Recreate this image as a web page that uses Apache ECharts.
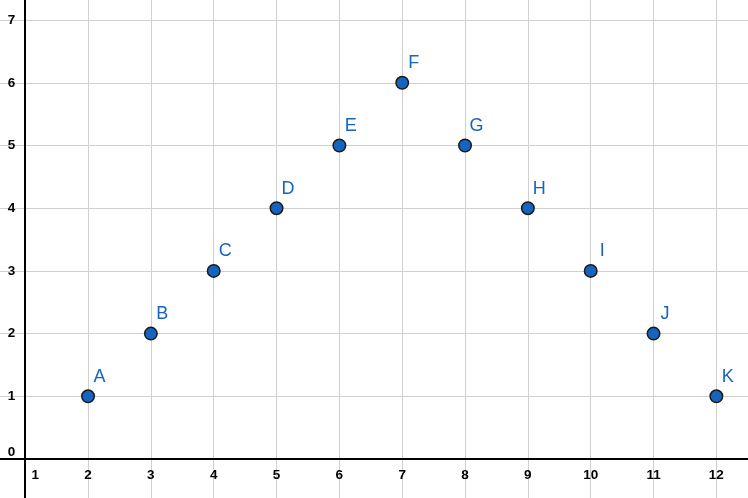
<!DOCTYPE html>
<html>
<head>
<meta charset="utf-8">
<script src="https://cdn.jsdelivr.net/npm/echarts@6/dist/echarts.min.js"></script>
<style>
html,body{margin:0;padding:0;background:#fff;}
#chart{width:748px;height:498px;}
</style>
</head>
<body>
<div id="chart"></div>
<script>
var pointNames = ['A','B','C','D','E','F','G','H','I','J','K'];
var xValues = [2,3,4,5,6,7,8,9,10,11,12];
var yValues = [1,2,3,4,5,6,5,4,3,2,1];
var xTickLabels = [1,2,3,4,5,6,7,8,9,10,11,12];
var yTickLabels = [0,1,2,3,4,5,6,7];

var data = pointNames.map(function(n,i){ return {name:n, value:[xValues[i], yValues[i]]}; });

var chart = echarts.init(document.getElementById('chart'));
var axisFont = 'Liberation Sans, Arial, sans-serif';
chart.setOption({
  animation:false,
  backgroundColor:'#ffffff',
  grid:{left:-37.63, right:-31.2, top:-42.6, bottom:-23.7, containLabel:false, outerBoundsMode:'none'},
  xAxis:{
    type:'value', min:0, max:13, interval:1,
    position:'bottom',
    offset:-62.7,
    axisLine:{onZero:false, show:true, lineStyle:{color:'#000', width:2}},
    axisTick:{show:false},
    splitLine:{show:true, lineStyle:{color:'#d0d0d0', width:1}},
    axisLabel:{
      margin:9, color:'#000', fontWeight:'bold', fontSize:13.5, fontFamily:axisFont,
      formatter:function(v){
        if (xTickLabels.indexOf(v) < 0) return '';
        if (v === 1) return '{a|1}';
        return String(v);
      },
      rich:{a:{padding:[0,0,0,20], color:'#000', fontWeight:'bold', fontSize:13.5, fontFamily:axisFont}}
    }
  },
  yAxis:{
    type:'value', min:-1, max:8, interval:1,
    position:'left',
    offset:-62.83,
    axisLine:{onZero:false, show:true, lineStyle:{color:'#000', width:2}},
    axisTick:{show:false},
    splitLine:{show:true, lineStyle:{color:'#d0d0d0', width:1}},
    axisLabel:{
      margin:10, color:'#000', fontWeight:'bold', fontSize:13.5, fontFamily:axisFont,
      formatter:function(v){
        if (yTickLabels.indexOf(v) < 0) return '';
        if (v === 0) return '{z|0}';
        return String(v);
      },
      rich:{z:{padding:[0,0,14,0], color:'#000', fontWeight:'bold', fontSize:13.5, fontFamily:axisFont}}
    }
  },
  series:[{
    type:'scatter',
    data:data,
    symbol:'circle',
    symbolSize:12.5,
    itemStyle:{color:'#1565c0', borderColor:'#1a1a1a', borderWidth:1.5, opacity:1},
    label:{
      show:true, position:'inside', offset:[11.5,-19.5],
      formatter:'{b}', color:'#1565c0', fontSize:18, fontFamily:'Liberation Sans, Arial, sans-serif'
    },
    emphasis:{disabled:true},
    z:5
  }]
});
</script>
</body>
</html>
